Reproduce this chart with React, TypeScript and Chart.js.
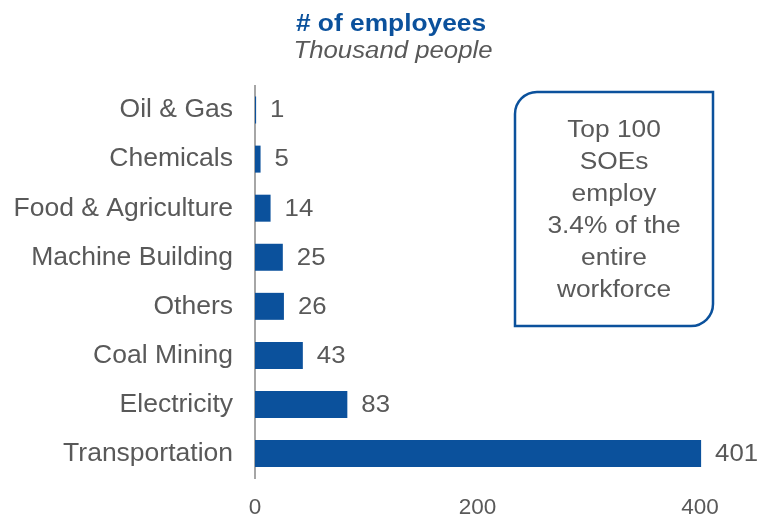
import React, { useEffect, useRef } from "react";
import { Chart, registerables } from "chart.js";

Chart.register(...registerables);

const categories = [
  "Oil & Gas",
  "Chemicals",
  "Food & Agriculture",
  "Machine Building",
  "Others",
  "Coal Mining",
  "Electricity",
  "Transportation",
];
const employees = [1, 5, 14, 25, 26, 43, 83, 401];
const xTickValues = [0, 200, 400];
const titleText = "# of employees";
const subtitleText = "Thousand people";
const noteLines = ["Top 100", "SOEs", "employ", "3.4% of the", "entire", "workforce"];

const BLUE = "#0B519C";
const GRAY = "#595959";
const SX = 1.12;

function stretchedText(ctx: CanvasRenderingContext2D, text: string, x: number, y: number, font: string, color: string, align: CanvasTextAlign, baseline: CanvasTextBaseline) {
  ctx.save();
  ctx.font = font;
  ctx.fillStyle = color;
  ctx.textAlign = align;
  ctx.textBaseline = baseline;
  ctx.translate(x, y);
  ctx.scale(SX, 1);
  ctx.fillText(text, 0, 0);
  ctx.restore();
}

const decorPlugin = {
  id: "decor",
  afterDatasetsDraw(chart: any) {
    const ctx: CanvasRenderingContext2D = chart.ctx;
    const meta = chart.getDatasetMeta(0);
    meta.data.forEach((bar: any, i: number) => {
      stretchedText(ctx, String(employees[i]), bar.x + 14, bar.y + 1, "23px 'Liberation Sans', Arial, sans-serif", GRAY, "left", "middle");
    });
    // titles
    stretchedText(ctx, titleText, 391, 31, "bold 23.5px 'Liberation Sans', Arial, sans-serif", BLUE, "center", "alphabetic");
    stretchedText(ctx, subtitleText, 393, 58, "italic 23px 'Liberation Sans', Arial, sans-serif", GRAY, "center", "alphabetic");
    // note box
    const l = 515, t = 92, r = 713, b = 326, rad = 22;
    ctx.save();
    ctx.strokeStyle = BLUE;
    ctx.lineWidth = 2.5;
    ctx.beginPath();
    ctx.moveTo(l + rad, t);
    ctx.lineTo(r, t);
    ctx.lineTo(r, b - rad);
    ctx.arcTo(r, b, r - rad, b, rad);
    ctx.lineTo(l, b);
    ctx.lineTo(l, t + rad);
    ctx.arcTo(l, t, l + rad, t, rad);
    ctx.closePath();
    ctx.fillStyle = "#ffffff";
    ctx.fill();
    ctx.stroke();
    ctx.restore();
    noteLines.forEach((line, i) => {
      stretchedText(ctx, line, (l + r) / 2, 137 + i * 32, "23.5px 'Liberation Sans', Arial, sans-serif", GRAY, "center", "alphabetic");
    });
  },
};

export default function App() {
  const ref = useRef<HTMLCanvasElement | null>(null);
  useEffect(() => {
    if (!ref.current) return;
    const chart = new Chart(ref.current, {
      type: "bar",
      data: {
        labels: categories,
        datasets: [
          {
            data: employees,
            backgroundColor: BLUE,
            barPercentage: 0.55,
            categoryPercentage: 1,
            clip: false as any,
          },
        ],
      },
      options: {
        indexAxis: "y",
        responsive: false,
        animation: false,
        layout: { padding: { top: 85.5, right: 59, bottom: 0, left: 0 } },
        plugins: {
          legend: { display: false },
          tooltip: { enabled: false },
          title: { display: false },
        },
        scales: {
          x: {
            min: 0,
            max: 400,
            afterBuildTicks: (scale: any) => {
              scale.ticks = xTickValues.map((v) => ({ value: v }));
            },
            afterFit: (scale: any) => {
              scale.height = 37.5;
            },
            grid: { display: false, drawTicks: false },
            border: { display: false },
            ticks: {
              color: GRAY,
              padding: 16,
              maxRotation: 0,
              font: { size: 22.5, family: "'Liberation Sans', Arial, sans-serif" },
            },
          },
          y: {
            afterFit: (scale: any) => {
              scale.width = 255;
            },
            grid: { display: false, drawTicks: false },
            border: { display: true, color: "#A6A6A6", width: 2 },
            ticks: {
              color: GRAY,
              padding: 22,
              font: { size: 26.5, family: "'Liberation Sans', Arial, sans-serif" },
            },
          },
        },
      },
      plugins: [decorPlugin],
    });
    return () => chart.destroy();
  }, []);
  return (
    <div style={{ position: "absolute", left: 0, top: 0, width: 759, height: 516, background: "#fff" }}>
      <canvas ref={ref} width={759} height={516} style={{ display: "block" }} />
    </div>
  );
}
